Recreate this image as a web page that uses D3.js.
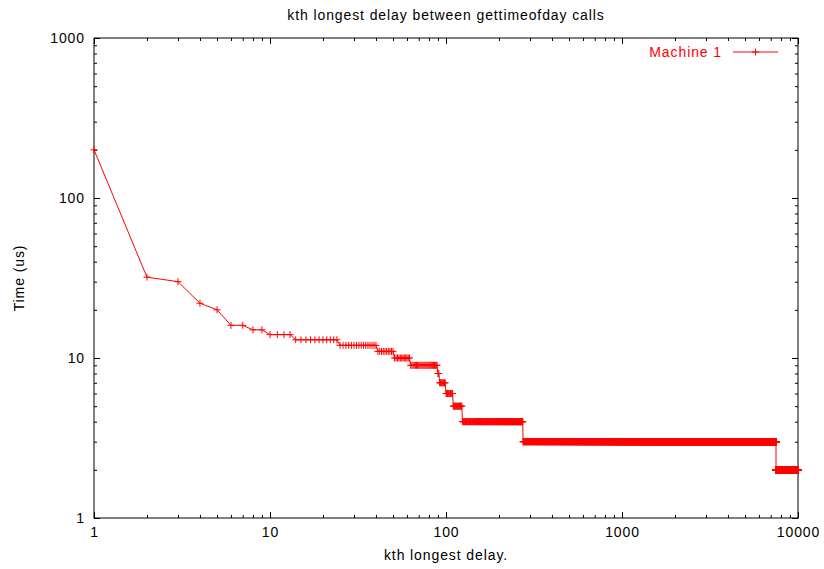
<!DOCTYPE html>
<html>
<head>
<meta charset="utf-8">
<script src="https://cdn.jsdelivr.net/npm/d3@7"></script>
<style>
  html, body { margin: 0; padding: 0; background: #fff; }
  svg { display: block; }
  text { font-family: "Liberation Sans", Arial, Helvetica, sans-serif; }
</style>
</head>
<body>
<svg id="chart" width="824" height="569"></svg>
<script>
// ---- Data (run-length encoded steps) ----
const titleText = "kth longest delay between gettimeofday calls";
const xLabelText = "kth longest delay.";
const yLabelText = "Time (us)";
const seriesName = "Machine 1";
// delay level (us) and the first rank k at which each level starts
const levels    = [200, 32, 30, 22, 20, 16, 15, 14, 13, 12, 11, 10,  9,  8,  7,   6,   5,   4,   3,    2];
const firstRank = [  1,  2,  3,  4,  5,  6,  8, 10, 14, 25, 41, 51, 63, 90, 92, 100, 110, 124, 274, 7501];
const lastRank = 10000;
const xTickValues = [1, 10, 100, 1000, 10000];
const xTickLabels = ["1", "10", "100", "1000", "10000"];
const yTickValues = [1, 10, 100, 1000];
const yTickLabels = ["1", "10", "100", "1000"];

// expand steps into one point per rank
const points = [];
levels.forEach((v, i) => {
  const end = i + 1 < firstRank.length ? firstRank[i + 1] - 1 : lastRank;
  for (let k = firstRank[i]; k <= end; k++) points.push({k: k, v: v});
});

// ---- Layout ----
const L = 94, R = 798, T = 38, B = 518;
const svg = d3.select("#chart");
const red = "#ff0000";
const fs = "14px";
const ls = "0.9px";

const x = d3.scaleLog().domain([1, 10000]).range([L, R]);
const y = d3.scaleLog().domain([1, 1000]).range([B, T]);

function minorTicks(dom) {
  const out = [];
  for (let d = dom[0]; d < dom[1]; d *= 10)
    for (let m = 2; m <= 9; m++) out.push(d * m);
  return out;
}
const xMinor = minorTicks([1, 10000]);
const yMinor = minorTicks([1, 1000]);

function styleAxis(g) {
  g.select(".domain").remove();
  g.selectAll("line").attr("stroke", "#000").attr("stroke-width", 1);
  g.selectAll("text").attr("fill", "#000").style("font-size", fs).style("letter-spacing", ls)
    .style("font-family", "'Liberation Sans', Arial, sans-serif");
}

// bottom major
svg.append("g").attr("transform", `translate(0,${B})`)
  .call(d3.axisBottom(x).tickValues(xTickValues).tickFormat((d, i) => xTickLabels[i])
    .tickSizeInner(-6).tickSizeOuter(0).tickPadding(9))
  .call(styleAxis);
// bottom minor
svg.append("g").attr("transform", `translate(0,${B})`)
  .call(d3.axisBottom(x).tickValues(xMinor).tickFormat("").tickSizeInner(-3).tickSizeOuter(0))
  .call(styleAxis);
// top major/minor (mirror)
svg.append("g").attr("transform", `translate(0,${T})`)
  .call(d3.axisTop(x).tickValues(xTickValues).tickFormat("").tickSizeInner(-6).tickSizeOuter(0))
  .call(styleAxis);
svg.append("g").attr("transform", `translate(0,${T})`)
  .call(d3.axisTop(x).tickValues(xMinor).tickFormat("").tickSizeInner(-3).tickSizeOuter(0))
  .call(styleAxis);
// left major/minor
svg.append("g").attr("transform", `translate(${L},0)`)
  .call(d3.axisLeft(y).tickValues(yTickValues).tickFormat((d, i) => yTickLabels[i])
    .tickSizeInner(-6).tickSizeOuter(0).tickPadding(9))
  .call(styleAxis);
svg.append("g").attr("transform", `translate(${L},0)`)
  .call(d3.axisLeft(y).tickValues(yMinor).tickFormat("").tickSizeInner(-3).tickSizeOuter(0))
  .call(styleAxis);
// right mirror
svg.append("g").attr("transform", `translate(${R},0)`)
  .call(d3.axisRight(y).tickValues(yTickValues).tickFormat("").tickSizeInner(-6).tickSizeOuter(0))
  .call(styleAxis);
svg.append("g").attr("transform", `translate(${R},0)`)
  .call(d3.axisRight(y).tickValues(yMinor).tickFormat("").tickSizeInner(-3).tickSizeOuter(0))
  .call(styleAxis);

// border
svg.append("rect").attr("x", L).attr("y", T).attr("width", R - L).attr("height", B - T)
  .attr("fill", "none").attr("stroke", "#000").attr("stroke-width", 1);

// ---- Series ----
const line = d3.line().x(d => x(d.k)).y(d => y(d.v));
svg.append("path").datum(points).attr("d", line)
  .attr("fill", "none").attr("stroke", red).attr("stroke-width", 1);

const ms = 3.5;
let mp = "";
points.forEach(d => {
  const px = x(d.k), py = y(d.v);
  mp += `M${px - ms},${py}H${px + ms}M${px},${py - ms}V${py + ms}`;
});
svg.append("path").attr("d", mp).attr("fill", "none").attr("stroke", red).attr("stroke-width", 1);

// ---- Texts ----
svg.append("text").attr("x", (L + R) / 2).attr("y", 20).attr("text-anchor", "middle")
  .style("font-size", fs).style("letter-spacing", ls).attr("fill", "#000").text(titleText);
svg.append("text").attr("x", (L + R) / 2).attr("y", 560).attr("text-anchor", "middle")
  .style("font-size", fs).style("letter-spacing", ls).attr("fill", "#000").text(xLabelText);
svg.append("text").attr("transform", `translate(24,${(T + B) / 2}) rotate(-90)`).attr("text-anchor", "middle")
  .style("font-size", fs).style("letter-spacing", ls).attr("fill", "#000").text(yLabelText);

// ---- Legend ----
const legY = 52;
svg.append("text").attr("x", 722).attr("y", legY + 5).attr("text-anchor", "end")
  .style("font-size", fs).style("letter-spacing", ls).attr("fill", red).text(seriesName);
svg.append("line").attr("x1", 733).attr("x2", 778).attr("y1", legY).attr("y2", legY)
  .attr("stroke", red).attr("stroke-width", 1);
svg.append("path").attr("d", `M${755.5 - ms},${legY}H${755.5 + ms}M${755.5},${legY - ms}V${legY + ms}`)
  .attr("stroke", red).attr("stroke-width", 1).attr("fill", "none");
</script>
</body>
</html>
